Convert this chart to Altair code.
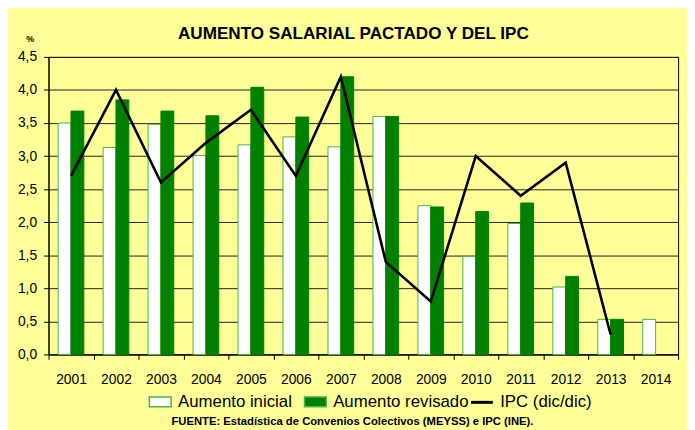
import altair as alt
import pandas as pd

years = [str(y) for y in range(2001, 2015)]
inicial = [3.50, 3.13, 3.48, 3.01, 3.17, 3.29, 3.14, 3.60, 2.25, 1.48, 1.98, 1.02, 0.53, 0.53]
revisado = [3.68, 3.85, 3.68, 3.61, 4.04, 3.59, 4.20, 3.60, 2.23, 2.16, 2.29, 1.18, 0.53, None]
ipc = [2.7, 4.0, 2.6, 3.2, 3.7, 2.7, 4.2, 1.4, 0.8, 3.0, 2.4, 2.9, 0.3, None]
series = ["Aumento inicial", "Aumento revisado", "IPC (dic/dic)"]
y_ticks = [0, 0.5, 1.0, 1.5, 2.0, 2.5, 3.0, 3.5, 4.0, 4.5]

title_text = "AUMENTO SALARIAL PACTADO Y DEL IPC"
source_text = "FUENTE: Estadística de Convenios Colectivos (MEYSS) e IPC (INE)."

bar_rows = []
for yr, a, b in zip(years, inicial, revisado):
    if a is not None:
        bar_rows.append({"anio": yr, "serie": series[0], "valor": a})
    if b is not None:
        bar_rows.append({"anio": yr, "serie": series[1], "valor": b})
line_rows = [{"anio": yr, "serie": series[2], "valor": v} for yr, v in zip(years, ipc) if v is not None]

bars_df = pd.DataFrame(bar_rows)
line_df = pd.DataFrame(line_rows)

YELLOW = "#FFFF99"
GREEN = "#008000"
LIGHT_GREEN = "#4CAF50"
NARROW = "Liberation Sans Narrow, Arial Narrow, Liberation Sans, sans-serif"
SANS = "Liberation Sans, Arial, sans-serif"

x_enc = alt.X(
    "anio:N",
    sort=years,
    scale=alt.Scale(domain=years, paddingInner=0, paddingOuter=0),
    axis=alt.Axis(
        title=source_text,
        labelAngle=0,
        tickBand="extent",
        tickSize=5,
        tickColor="black",
        domainColor="black",
        grid=False,
        labelFont=NARROW,
        labelFontSize=14,
        labelColor="black",
        labelPadding=24,
        labelBaseline="alphabetic",
        titleFont=SANS,
        titleFontSize=11.4,
        titleFontWeight="bold",
        titleColor="black",
        titleX=307,
        titleY=71,
        titleBaseline="alphabetic",
        titleAlign="center",
    ),
)

y_enc = alt.Y(
    "valor:Q",
    scale=alt.Scale(domain=[0, 4.5], nice=False),
    axis=alt.Axis(
        title="%",
        values=y_ticks,
        labelExpr="replace(format(datum.value, '.1f'), '.', ',')",
        grid=True,
        gridColor="#222222",
        gridWidth=1,
        tickSize=5,
        tickColor="black",
        domainColor="black",
        labelFont=NARROW,
        labelFontSize=14,
        labelColor="black",
        labelPadding=7,
        titleAngle=0,
        titleX=-19,
        titleY=-16,
        titleAlign="center",
        titleBaseline="alphabetic",
        titleFont=SANS,
        titleFontSize=9,
        titleFontWeight="bold",
        titleColor="black",
    ),
)

bars = alt.Chart(bars_df).mark_bar(strokeWidth=1).encode(
    x=x_enc,
    xOffset=alt.XOffset("serie:N", sort=series[:2],
                        scale=alt.Scale(domain=series[:2], paddingInner=0, paddingOuter=0.75)),
    y=y_enc,
    color=alt.Color(
        "serie:N",
        scale=alt.Scale(domain=series[:2], range=["#FFFFFF", GREEN]),
        legend=alt.Legend(
            title=None,
            orient="none",
            legendX=101,
            legendY=337,
            direction="horizontal",
            symbolType="M-1,-0.45L1,-0.45L1,0.45L-1,0.45Z",
            symbolSize=484,
            symbolStrokeColor=LIGHT_GREEN,
            symbolStrokeWidth=1.5,
            labelFont=SANS,
            labelFontSize=17,
            labelColor="black",
            labelOffset=6,
            columnPadding=9,
            padding=0,
        ),
    ),
    stroke=alt.condition(alt.datum.serie == series[0], alt.value(LIGHT_GREEN), alt.value(GREEN)),
)

line = alt.Chart(line_df).mark_line(strokeWidth=2.6, color="black").encode(
    x=x_enc,
    y=y_enc,
    stroke=alt.Stroke(
        "serie:N",
        scale=alt.Scale(domain=[series[2]], range=["#000000"]),
        legend=alt.Legend(
            title=None,
            orient="none",
            legendX=426,
            legendY=337,
            direction="horizontal",
            symbolType="stroke",
            symbolSize=484,
            symbolStrokeWidth=3,
            labelFont=SANS,
            labelFontSize=17,
            labelColor="black",
            labelOffset=6,
            padding=0,
        ),
    ),
)

chart = alt.layer(bars, line).properties(
    width=637,
    height=301,
    background=YELLOW,
    padding={"left": 41, "top": 47, "right": 9, "bottom": 74},
    autosize=alt.AutoSizeParams(type="none"),
    title=alt.TitleParams(
        text=title_text,
        font=SANS,
        fontSize=17.3,
        fontWeight="bold",
        color="black",
        anchor="middle",
        frame="group",
        baseline="alphabetic",
        dx=-10,
        offset=0,
        dy=22,
    ),
).configure_view(
    stroke="black", strokeWidth=1, fill=YELLOW
).resolve_scale(stroke="independent")

chart.save("out.html", embed_options={"renderer": "svg", "actions": False})
